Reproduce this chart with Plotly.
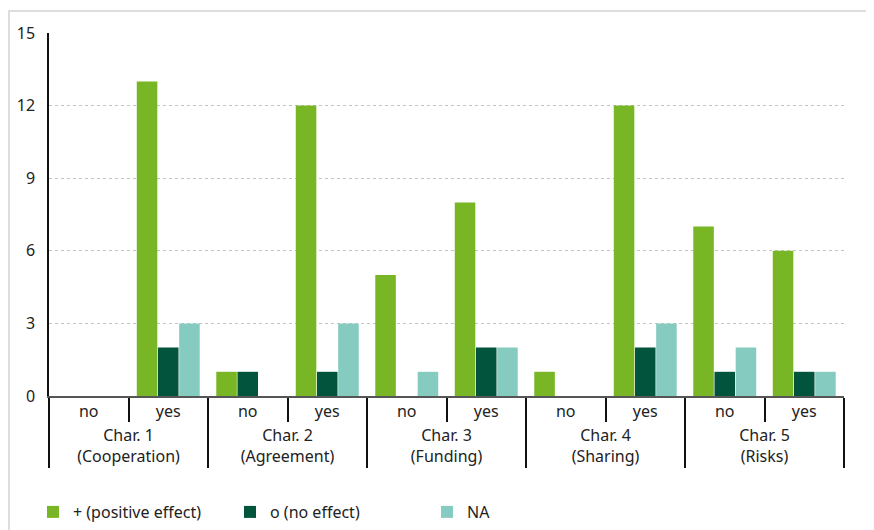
import plotly.graph_objects as go

groups = ["Char. 1<br>(Cooperation)", "Char. 2<br>(Agreement)", "Char. 3<br>(Funding)",
          "Char. 4<br>(Sharing)", "Char. 5<br>(Risks)"]
subs = ["no", "yes"]
positive = [0, 13, 1, 12, 5, 8, 1, 12, 7, 6]
no_effect = [0, 2, 1, 1, 0, 2, 0, 2, 1, 1]
na = [0, 3, 0, 3, 1, 2, 0, 3, 2, 1]
series_names = ["+ (positive effect)", "o (no effect)", "NA"]
colors = ["#79b625", "#03543c", "#86cbc0"]
yticks = [0, 3, 6, 9, 12, 15]

outer = [g for g in groups for _ in subs]
inner = [s for _ in groups for s in subs]

fig = go.Figure()
for name, vals, c in zip(series_names, [positive, no_effect, na], colors):
    fig.add_trace(go.Bar(x=[outer, inner], y=vals, name=name, marker_color=c,
                         marker_line_width=0))

# page body has an 8px margin; figure placed at (8, 8)
OFF = 8
W, H = 874 - OFF, 530 - OFF
ml, mr, mt, mb = 49 - OFF, 30, 33 - OFF, 134
pw, ph = W - ml - mr, H - mt - mb

def px(x):
    return (x - OFF - ml) / pw

def py(y):
    return (H - mb - (y - OFF)) / ph

fig.update_layout(
    width=W, height=H,
    margin=dict(l=ml, r=mr, t=mt, b=mb, autoexpand=False),
    paper_bgcolor="white", plot_bgcolor="white",
    barmode="group", bargap=0.2, bargroupgap=0.03,
    font=dict(family="Noto Sans, Open Sans, sans-serif", size=16, color="#222"),
    legend=dict(orientation="h", x=px(33), xanchor="left", y=py(512), yanchor="middle",
                entrywidth=152, itemwidth=30, font=dict(size=16), traceorder="normal"),
    shapes=[
        dict(type="line", xref="paper", yref="paper", x0=px(8), x1=px(874), y0=py(11), y1=py(11),
             line=dict(color="#dddddd", width=2)),
        dict(type="line", xref="paper", yref="paper", x0=px(9), x1=px(9), y0=py(11), y1=py(530),
             line=dict(color="#dddddd", width=2)),
    ],
)
fig.update_yaxes(range=[0, 15], tickvals=yticks, showgrid=True, gridcolor="#c4c4c4",
                 griddash="dot", gridwidth=1, showline=True, linecolor="#111", linewidth=1.5,
                 zeroline=False, ticks="", ticklabelstandoff=9, automargin=False)
fig.update_xaxes(showline=True, linecolor="#555", linewidth=2, ticks="outside",
                 tickson="boundaries", ticklen=24, tickcolor="#111", tickwidth=1.5,
                 showdividers=True, dividercolor="#111", dividerwidth=1.5, showgrid=False,
                 automargin=False)

fig.write_html("out.html")
